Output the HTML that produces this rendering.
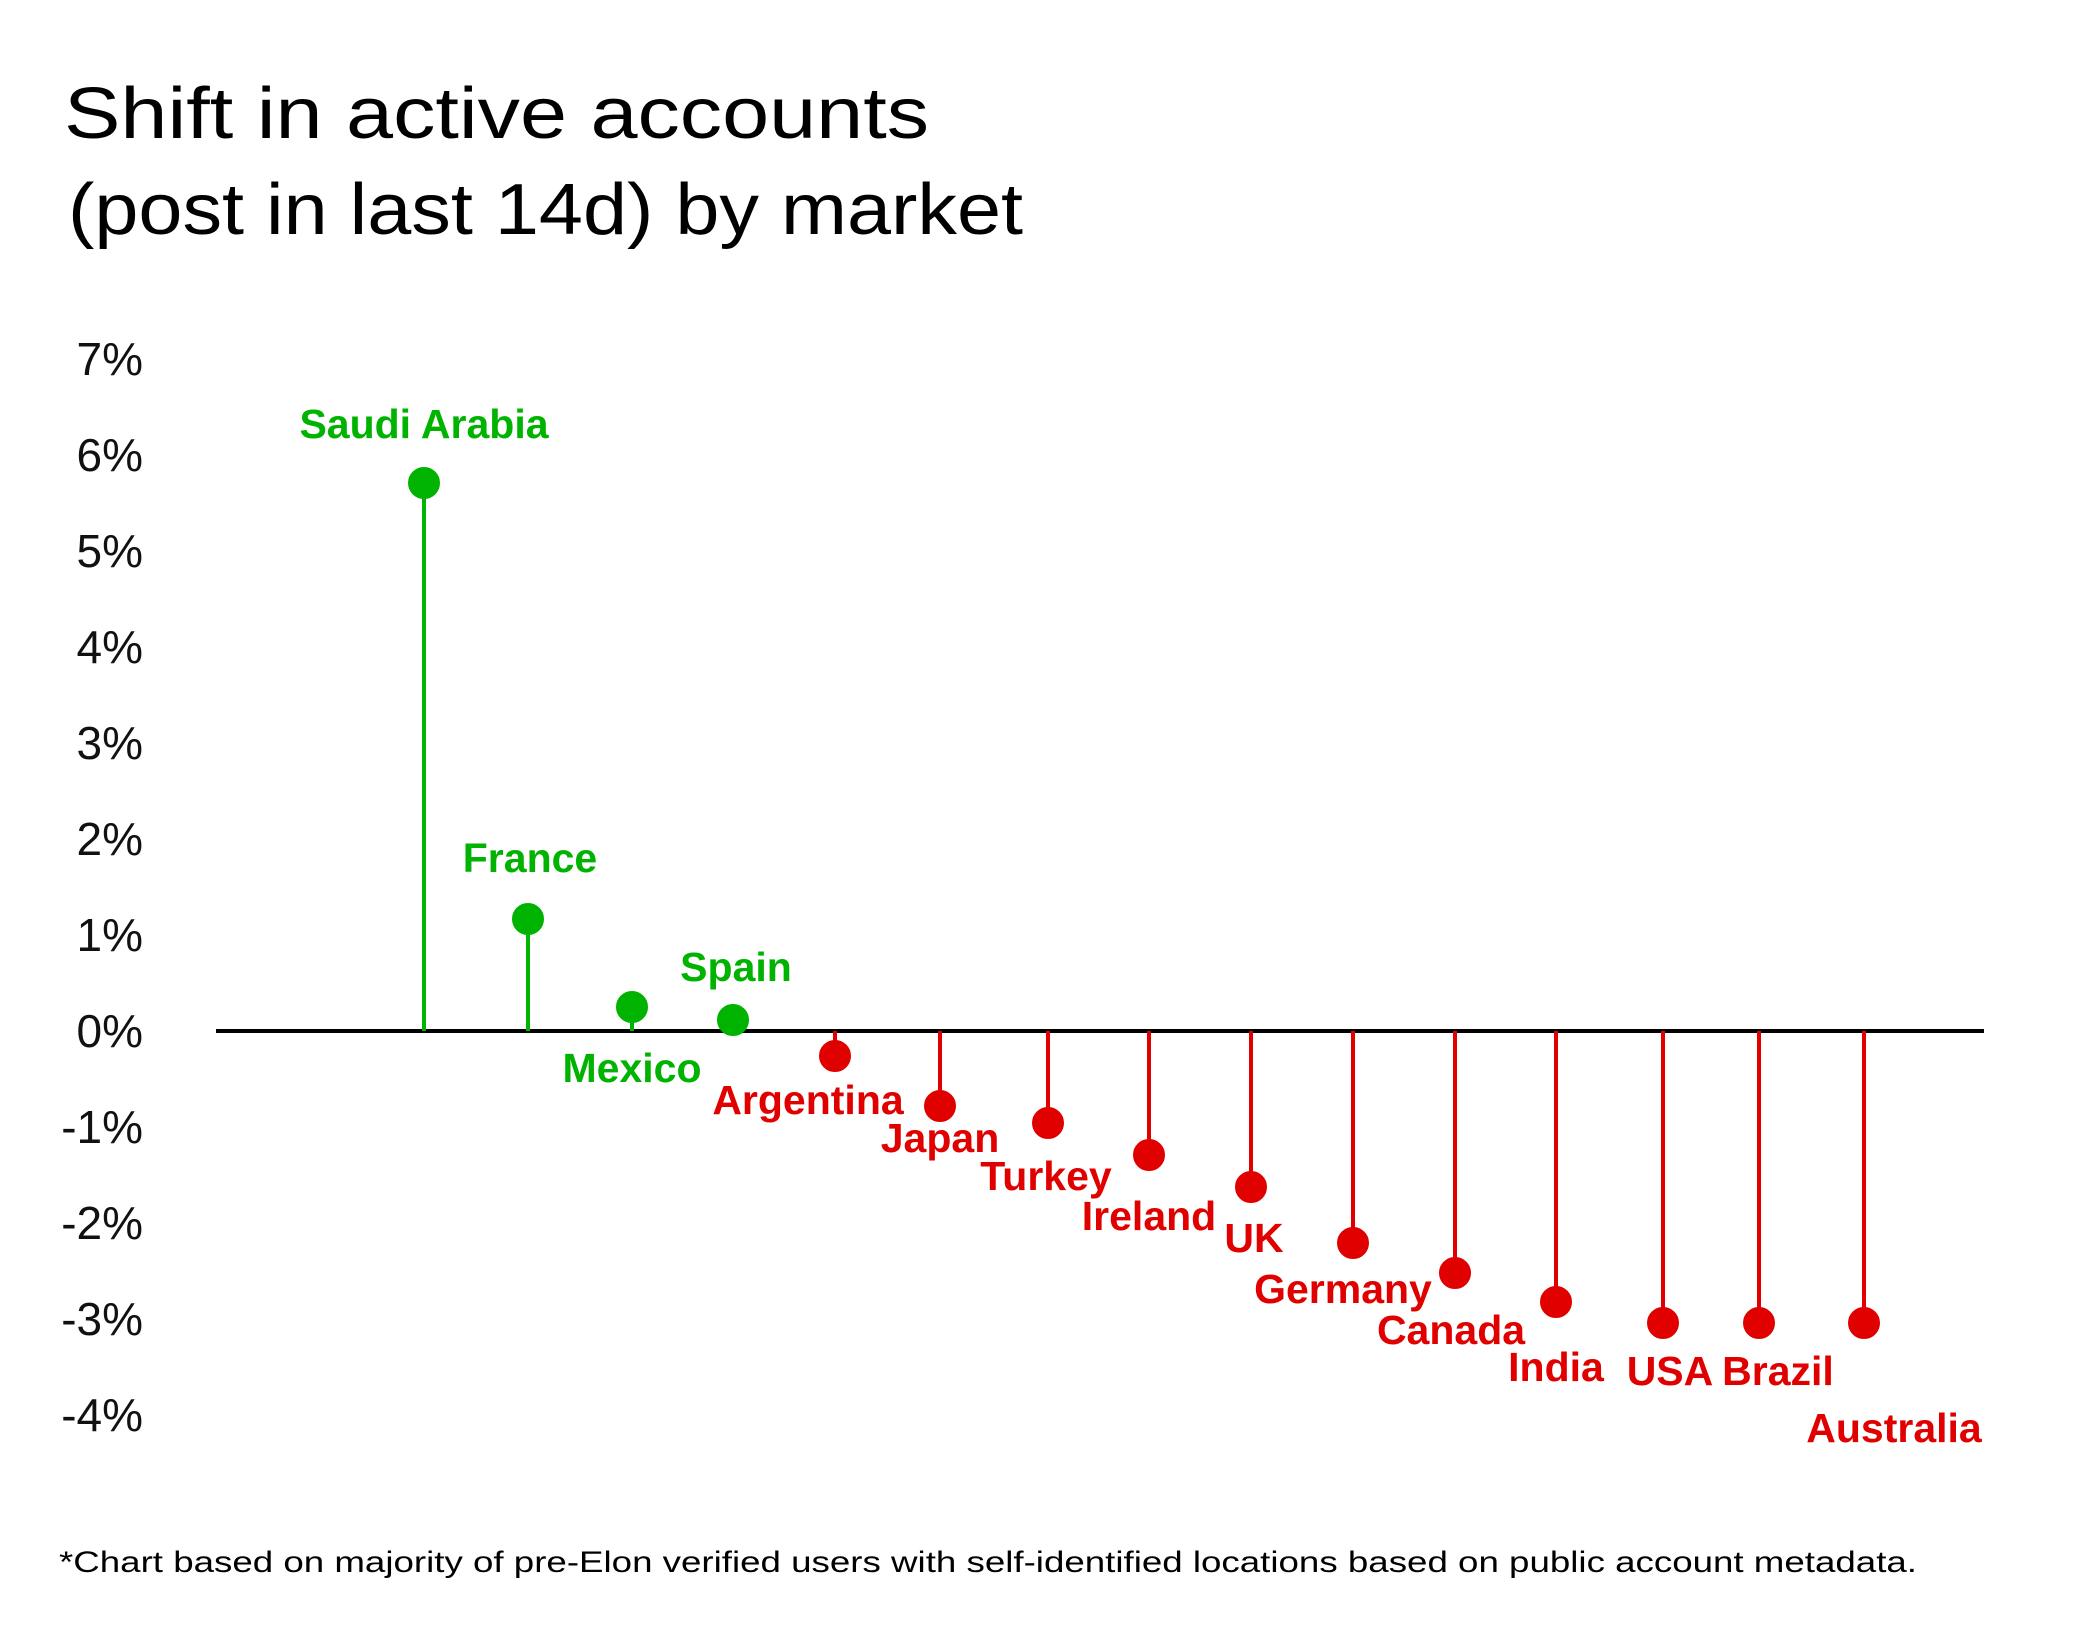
<!DOCTYPE html>
<html><head><meta charset="utf-8"><style>html,body{margin:0;padding:0;background:#fff}svg{display:block}</style></head><body>
<svg width="2084" height="1635" viewBox="0 0 2084 1635" xmlns="http://www.w3.org/2000/svg" font-family="Liberation Sans, sans-serif">
<rect width="2084" height="1635" fill="#fff"/>
<text x="64" y="138" font-size="72" fill="#000" textLength="865" lengthAdjust="spacingAndGlyphs">Shift in active accounts</text>
<text x="68" y="234" font-size="72" fill="#000" textLength="955" lengthAdjust="spacingAndGlyphs">(post in last 14d) by market</text>
<g transform="translate(0,-3)">
<g font-size="46" fill="#111" text-anchor="end">
<text x="143" y="378">7%</text><text x="143" y="474">6%</text><text x="143" y="570">5%</text><text x="143" y="666">4%</text>
<text x="143" y="762">3%</text><text x="143" y="858">2%</text><text x="143" y="954">1%</text><text x="143" y="1050">0%</text>
<text x="143" y="1146">-1%</text><text x="143" y="1242">-2%</text><text x="143" y="1338">-3%</text><text x="143" y="1434">-4%</text>
</g>
<line x1="216" y1="1034" x2="1984" y2="1034" stroke="#000" stroke-width="4"/>
<g stroke="#00b300" stroke-width="4" fill="#00b300">
<line x1="424" y1="1034" x2="424" y2="486"/><circle cx="424" cy="486" r="14"/>
<line x1="528" y1="1034" x2="528" y2="922"/><circle cx="528" cy="922" r="14"/>
<line x1="632" y1="1034" x2="632" y2="1010"/><circle cx="632" cy="1010" r="14"/>
<circle cx="733" cy="1023" r="14"/>
</g>
<g stroke="#e00000" stroke-width="4" fill="#e00000">
<line x1="835" y1="1034" x2="835" y2="1059"/><circle cx="835" cy="1059" r="14"/>
<line x1="940" y1="1034" x2="940" y2="1109"/><circle cx="940" cy="1109" r="14"/>
<line x1="1048" y1="1034" x2="1048" y2="1126"/><circle cx="1048" cy="1126" r="14"/>
<line x1="1149" y1="1034" x2="1149" y2="1158"/><circle cx="1149" cy="1158" r="14"/>
<line x1="1251" y1="1034" x2="1251" y2="1190"/><circle cx="1251" cy="1190" r="14"/>
<line x1="1353" y1="1034" x2="1353" y2="1246"/><circle cx="1353" cy="1246" r="14"/>
<line x1="1455" y1="1034" x2="1455" y2="1276"/><circle cx="1455" cy="1276" r="14"/>
<line x1="1556" y1="1034" x2="1556" y2="1305"/><circle cx="1556" cy="1305" r="14"/>
<line x1="1663" y1="1034" x2="1663" y2="1326"/><circle cx="1663" cy="1326" r="14"/>
<line x1="1759" y1="1034" x2="1759" y2="1326"/><circle cx="1759" cy="1326" r="14"/>
<line x1="1864" y1="1034" x2="1864" y2="1326"/><circle cx="1864" cy="1326" r="14"/>
</g>
<g font-size="41" font-weight="bold" text-anchor="middle" fill="#00b300">
<text x="424" y="441">Saudi Arabia</text>
<text x="530" y="875">France</text>
<text x="736" y="984">Spain</text>
<text x="632" y="1085">Mexico</text>
</g>
<g font-size="41" font-weight="bold" text-anchor="middle" fill="#e00000">
<text x="808" y="1117">Argentina</text>
<text x="940" y="1155">Japan</text>
<text x="1046" y="1193">Turkey</text>
<text x="1149" y="1233">Ireland</text>
<text x="1254" y="1255">UK</text>
<text x="1343" y="1306">Germany</text>
<text x="1451" y="1347">Canada</text>
<text x="1556" y="1384">India</text>
<text x="1670" y="1388">USA</text>
<text x="1778" y="1388">Brazil</text>
<text x="1894" y="1445">Australia</text>
</g>
</g>
<text x="59" y="1572" font-size="30" fill="#000" textLength="1858" lengthAdjust="spacingAndGlyphs">*Chart based on majority of pre-Elon verified users with self-identified locations based on public account metadata.</text>
</svg>
</body></html>
